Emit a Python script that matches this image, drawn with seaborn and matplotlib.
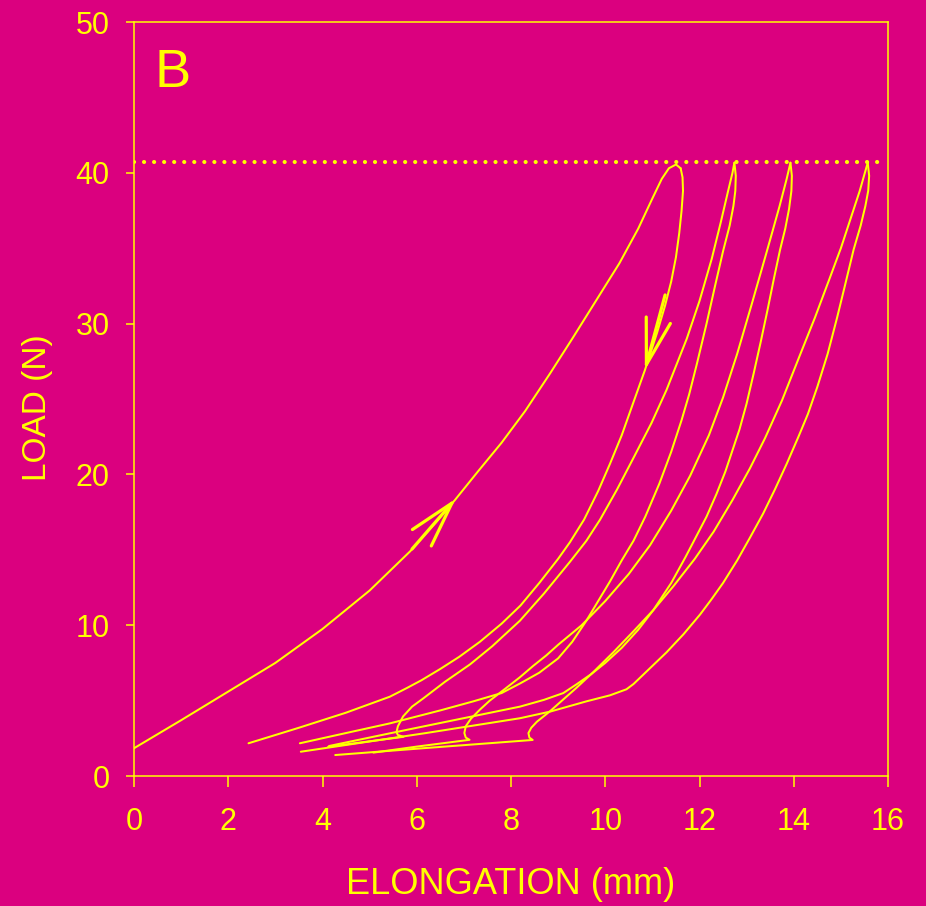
import matplotlib
matplotlib.use("Agg")
import matplotlib.pyplot as plt
import pandas as pd
import seaborn as sns

BG = "#DB007F"
FG = "#FFFF00"

# ---- data (elongation in mm, load in N) ----
load1_x = [0.0, 1.0, 2.0, 3.0, 4.0, 5.0, 5.86, 6.4, 6.81, 7.3, 7.8, 8.3, 8.83, 9.3, 9.8, 10.3, 10.7, 11.0,
           11.2, 11.35, 11.5, 11.6]
load1_y = [1.84, 3.7, 5.6, 7.5, 9.75, 12.3, 14.9, 16.8, 18.3, 20.2, 22.1, 24.2, 26.7, 29.0, 31.5, 34.0, 36.3,
           38.3, 39.6, 40.3, 40.55, 40.3]

unload1_x = [11.6, 11.64, 11.65, 11.62, 11.57, 11.5, 11.4, 11.27, 11.1, 10.84, 10.6, 10.35, 10.1, 9.85, 9.55,
             9.25, 9.0, 8.6, 8.2, 7.8, 7.34, 6.9, 6.5, 6.1, 5.8, 5.43, 4.5, 3.5, 2.43]
unload1_y = [40.3, 39.7, 38.8, 37.5, 36.0, 34.4, 32.8, 31.2, 29.4, 26.9, 24.8, 22.6, 20.7, 18.9, 17.0,
             15.5, 14.4, 12.8, 11.3, 10.1, 8.9, 7.9, 7.1, 6.35, 5.85, 5.26, 4.2, 3.2, 2.17]

load2_x = [4.12, 5.0, 5.72, 5.6, 5.57, 5.6, 5.71, 5.9, 6.14, 6.6, 7.13, 7.6, 8.19, 8.7, 9.25, 9.6, 9.89,
           10.25, 10.6, 10.98, 11.3, 11.73, 12.0, 12.26, 12.45, 12.6, 12.7, 12.74]
load2_y = [1.94, 2.3, 2.6, 2.72, 2.9, 3.3, 3.95, 4.6, 5.15, 6.25, 7.4, 8.6, 10.3, 12.1, 14.2, 15.6, 17.0,
           19.0, 21.1, 23.4, 25.6, 29.0, 31.5, 34.3, 36.7, 38.7, 40.0, 40.67]

unload2_x = [12.74, 12.77, 12.76, 12.72, 12.64, 12.5, 12.33, 12.15, 11.95, 11.78, 11.62, 11.4, 11.15, 10.85,
             10.6, 10.35, 10.1, 9.85, 9.6, 9.3, 9.0, 8.6, 8.2, 7.8, 7.2, 6.5, 5.43, 4.5, 3.52]
unload2_y = [40.67, 39.8, 38.8, 37.8, 36.5, 34.8, 32.5, 30.0, 27.4, 25.3, 23.6, 21.5, 19.4, 17.2,
             15.6, 14.3, 12.9, 11.6, 10.3, 8.9, 7.8, 6.85, 6.15, 5.5, 4.95, 4.35, 3.49, 2.85, 2.17]

load3_x = [5.08, 6.0, 7.12, 7.04, 7.01, 7.04, 7.15, 7.34, 7.55, 7.8, 8.19, 8.47, 8.75, 9.0, 9.5, 10.0, 10.5,
           10.95, 11.4, 11.8, 12.2, 12.5, 12.8, 13.1, 13.43, 13.7, 13.85, 13.93]
load3_y = [1.55, 1.95, 2.4, 2.55, 2.85, 3.3, 3.8, 4.4, 5.0, 5.6, 6.55, 7.3, 8.0, 8.7, 10.0, 11.6, 13.4,
           15.3, 17.6, 19.9, 22.6, 25.1, 28.0, 31.2, 34.8, 37.8, 39.6, 40.67]

unload3_x = [13.93, 13.96, 13.95, 13.9, 13.82, 13.71, 13.58, 13.45, 13.3, 13.15, 13.0, 12.85, 12.7, 12.55,
             12.36, 12.15, 11.95, 11.7, 11.4, 11.02, 10.7, 10.35, 10.0, 9.7, 9.4, 9.11, 8.7, 8.19, 5.43, 4.14]
unload3_y = [40.67, 39.8, 38.8, 37.6, 36.3, 34.9, 33.0, 31.0, 28.8, 26.7, 24.7, 23.0, 21.6, 20.2,
             18.7, 17.2, 16.0, 14.5, 12.8, 11.0, 9.7, 8.5, 7.5, 6.75, 6.1, 5.5, 5.05, 4.6, 2.83, 1.99]

load4_x = [4.27, 6.17, 8.46, 8.39, 8.37, 8.43, 8.55, 8.83, 9.1, 9.39, 9.75, 10.17, 10.6, 11.02, 11.45, 11.9,
           12.3, 12.7, 13.07, 13.39, 13.75, 14.13, 14.45, 14.75, 15.0, 15.2, 15.4, 15.57]
load4_y = [1.39, 1.85, 2.39, 2.55, 2.85, 3.2, 3.6, 4.3, 5.05, 5.85, 6.9, 8.2, 9.6, 11.0, 12.6, 14.4,
           16.2, 18.3, 20.4, 22.4, 24.9, 27.9, 30.4, 32.9, 35.0, 36.9, 38.8, 40.67]

unload4_x = [15.57, 15.6, 15.58, 15.52, 15.42, 15.27, 15.1, 14.92, 14.72, 14.5, 14.3, 14.1, 13.85, 13.6,
             13.35, 13.07, 12.8, 12.5, 12.25, 12.01, 11.66, 11.3, 10.9, 10.6, 10.45, 10.1, 9.6, 8.83, 8.19,
             6.2, 3.54]
unload4_y = [40.67, 39.8, 38.8, 37.8, 36.5, 34.9, 32.7, 30.4, 28.0, 25.8, 24.0, 22.5, 20.7, 19.0,
             17.4, 15.8, 14.3, 12.8, 11.7, 10.7, 9.4, 8.2, 7.0, 6.1, 5.75, 5.35, 4.95, 4.27, 3.83,
             2.85, 1.61]

limit_load = 40.7
limit_x = [0.0, 15.8]

arrow_up_tail = (5.90, 15.05)
arrow_up_tip = (6.83, 18.4)
arrow_down_tail = (11.27, 31.9)
arrow_down_tip = (10.84, 26.9)

x_ticks = [0, 2, 4, 6, 8, 10, 12, 14, 16]
y_ticks = [0, 10, 20, 30, 40, 50]

curves = [
    ("load1", load1_x, load1_y), ("unload1", unload1_x, unload1_y),
    ("load2", load2_x, load2_y), ("unload2", unload2_x, unload2_y),
    ("load3", load3_x, load3_y), ("unload3", unload3_x, unload3_y),
    ("load4", load4_x, load4_y), ("unload4", unload4_x, unload4_y),
]
df = pd.concat(
    [pd.DataFrame({"elongation": xs, "load": ys, "curve": name}) for name, xs, ys in curves],
    ignore_index=True,
)

sns.set_theme(style="white")
plt.rcParams["font.family"] = ["Liberation Sans", "DejaVu Sans"]

fig = plt.figure(figsize=(9.26, 9.06), dpi=100, facecolor=BG)
ax = fig.add_axes([134 / 926, 1 - 776 / 906, (888 - 134) / 926, (776 - 22) / 906])
ax.set_facecolor(BG)

sns.lineplot(data=df, x="elongation", y="load", units="curve", estimator=None, sort=False,
             color=FG, linewidth=1.45, legend=False, ax=ax,
             solid_joinstyle="round", solid_capstyle="round")

ax.plot(limit_x, [limit_load, limit_load], color=FG, linewidth=3.0,
        linestyle=(0, (0.01, 2.4)), dash_capstyle="round")

for tail, tip in [(arrow_up_tail, arrow_up_tip), (arrow_down_tail, arrow_down_tip)]:
    ax.annotate("", xy=tip, xytext=tail,
                arrowprops=dict(arrowstyle="->,head_length=33,head_width=9", mutation_scale=1,
                                lw=2.3, color=FG, shrinkA=0, shrinkB=0))

ax.set_xlim(0, 16)
ax.set_ylim(0, 50)
ax.set_xticks(x_ticks)
ax.set_yticks(y_ticks)
ax.set_xticklabels([str(v) for v in x_ticks])
ax.set_yticklabels([str(v) for v in y_ticks])

for sp in ax.spines.values():
    sp.set_visible(True)
    sp.set_color(FG)
    sp.set_linewidth(1.1)

ax.tick_params(axis="x", direction="out", length=8, width=1.1, pad=14, labelsize=22,
               colors=FG, bottom=True, top=False)
ax.tick_params(axis="y", direction="out", length=6, width=1.1, pad=11.5, labelsize=22,
               colors=FG, left=True, right=False)
ax.grid(False)

ax.set_xlabel("ELONGATION (mm)", fontsize=26, color=FG)
ax.set_ylabel("LOAD (N)", fontsize=24, color=FG)
ax.xaxis.set_label_coords(0.5, -0.121)
ax.yaxis.set_label_coords(-0.107, 0.488)

ax.text(0.445, 45.7, "B", fontsize=39, color=FG, ha="left", va="baseline")

fig.savefig("out.png", dpi=100, facecolor=BG)
